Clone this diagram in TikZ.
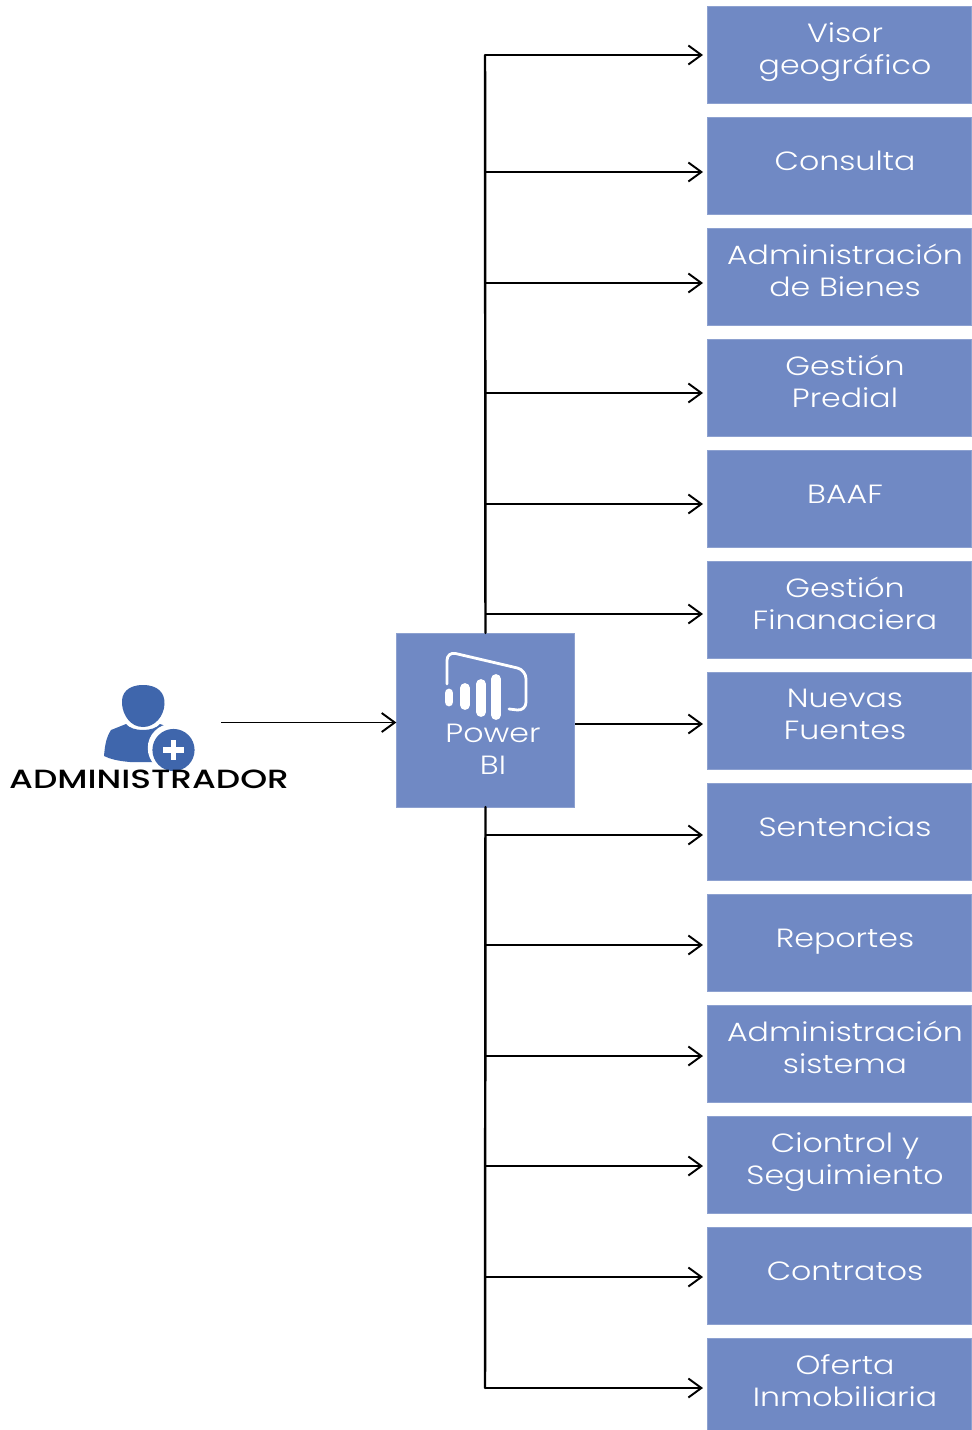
\documentclass[tikz,border=0pt]{standalone}
\usepackage{fontspec}
\newfontfamily\boxfont[UprightFont=* Light, FakeStretch=1.2]{Poppins}
\newfontfamily\adminfont[UprightFont=* Medium, FakeStretch=1.3]{Poppins}
\definecolor{boxblue}{RGB}{112,137,196}
\definecolor{userblue}{RGB}{63,102,172}
\usetikzlibrary{arrows.meta}
\tikzset{
	boxitem/.style={rectangle, fill=boxblue, draw=boxblue!80!white, line width=0.2pt, minimum width=5.28cm, minimum height=1.94cm, inner sep=0pt},
	boxtext/.style={text=white, align=center, font=\boxfont\fontsize{15}{18.1}\selectfont, execute at begin node=\strut, execute at end node=\strut, inner sep=0pt},
	arrowline/.style={-{Straight Barb[length=2.6mm, width=3.8mm]}, line width=1.1pt, black},
	trunkline/.style={line width=1.4pt, black}
}
\begin{document}
\begin{tikzpicture}[x=0.02cm, y=-0.02cm]
	\useasboundingbox (0, 0) rectangle (971, 1430);
	\fill[white] (0, 0) rectangle (971, 1430);

	% bloques de la derecha
	\foreach \i/\cy/\ay/\txt in {
		1/55/55/{Visor\\geográfico},
		2/166/172/{Consulta},
		3/277/283/{Administración\\de Bienes},
		4/388/393/{Gestión\\Predial},
		5/499/504/{BAAF},
		6/610/614/{Gestión\\Finanaciera},
		7/721/724/{Nuevas\\Fuentes},
		8/832/835/{Sentencias},
		9/943/945/{Reportes},
		10/1054/1056/{Administración\\sistema},
		11/1165/1166/{Ciontrol y\\Seguimiento},
		12/1276/1277/{Contratos},
		13/1387/1388/{Oferta\\Inmobiliaria}}
	{
		\node[boxitem] (box\i) at (839, \cy) {};
		\node[boxtext] (lbl\i) at (845, \cy-2) {\txt};
		\coordinate (trunk\i) at (485, \ay);
		\coordinate (tip\i) at (703, \ay);
		\draw[arrowline] (trunk\i) -- (tip\i);
	}

	% Power BI
	\node[rectangle, fill=boxblue, draw=boxblue!80!white, line width=0.2pt, minimum width=3.56cm, minimum height=3.48cm, inner sep=0pt] (pbi) at (485.5, 720) {};
	\node[boxtext] (pbilbl) at (493, 754) {Power\\BI};
	\draw[trunkline, line cap=round] (trunk1) -- (pbi.north);
	\draw[trunkline, line cap=round] (pbi.south) -- (trunk13);

	\draw[white, line width=1.6pt, line cap=round, line join=round, rounded corners=5pt] (447, 684) -- (447, 651.5) -- (526, 670) -- (526, 711) -- (509, 709);
	\foreach \bx/\byA/\byB/\bw in {449/688/707/5, 465/683/710/5.6, 481/679/717/5.6, 496/674/720/5.6}
		\draw[white, line width=\bw pt, line cap=round] (\bx, \byA+5) -- (\bx, \byB-5);

	% usuario
	\fill[userblue] (143, 685) .. controls (128, 685) and (121, 693) .. (122, 704) .. controls (123, 716) and (131, 727) .. (143, 727) .. controls (155, 727) and (164, 716) .. (164.5, 704) .. controls (165, 693) and (158, 685) .. (143, 685) -- cycle;
	\fill[userblue] (126, 724) .. controls (132, 732) and (154, 732) .. (160, 724) -- (175, 729) .. controls (178, 740) and (176, 755) .. (170, 762) -- (130, 762) .. controls (118, 761) and (110, 759) .. (104, 756) .. controls (105, 745) and (106, 738) .. (111, 730) -- cycle;
	\fill[white] (172, 748) circle (13.8pt);
	\fill[userblue] (173.5, 750) circle (12pt);
	\draw[white, line width=3.2pt] (163, 750) -- (184, 750);
	\draw[white, line width=3.2pt] (173.5, 740) -- (173.5, 760);

	\node[text=black, font=\adminfont\fontsize{15}{18}\selectfont] (admin) at (149, 779) {ADMINISTRADOR};
	\coordinate (adminout) at (221, 722.5);
	\draw[arrowline] (adminout) -- (adminout -| pbi.west);
\end{tikzpicture}
\end{document}
